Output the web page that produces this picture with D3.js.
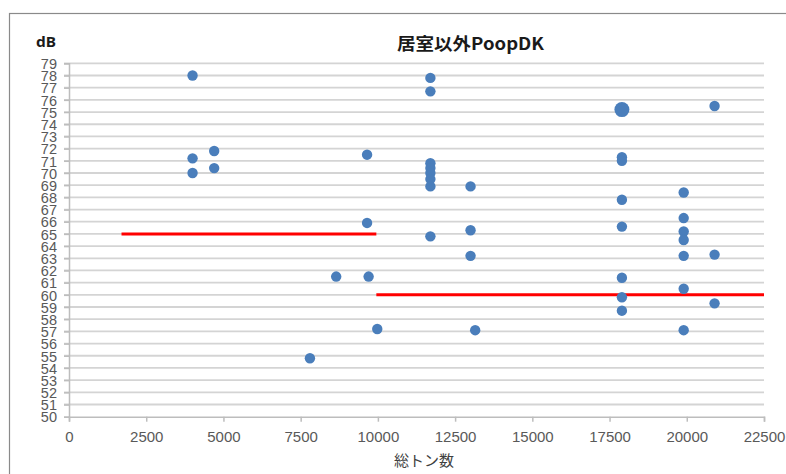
<!DOCTYPE html>
<html>
<head>
<meta charset="utf-8">
<script src="https://cdn.jsdelivr.net/npm/d3@7"></script>
<style>
  html, body { margin: 0; padding: 0; background: #fff; }
  svg { display: block; }
</style>
</head>
<body>
<svg id="chart" width="786" height="474"></svg>
<script>
// Gross tonnage (x) and measured level in dB (y)
const tonnage = [
  4000, 4000, 4000, 4700, 4700, 9650, 9650, 8650, 9700, 7800, 9980,
  11700, 11700, 11700, 11700, 11700, 11700, 11700, 11700,
  13000, 13000, 13000, 13150,
  17900, 17900, 17900, 17900, 17900, 17900, 17900,
  19900, 19900, 19900, 19900, 19900, 19900, 19900,
  20900, 20900, 20900
];
const level = [
  78.0, 71.2, 70.0, 71.8, 70.4, 71.5, 65.9, 61.5, 61.5, 54.8, 57.2,
  77.8, 76.7, 70.8, 70.4, 70.0, 69.5, 68.9, 64.8,
  68.9, 65.3, 63.2, 57.1,
  71.3, 71.0, 67.8, 65.6, 61.4, 59.8, 58.7,
  68.4, 66.3, 65.2, 64.5, 63.2, 60.5, 57.1,
  75.5, 63.3, 59.3
];
// Point drawn with a larger marker
const largeTonnage = [17900];
const largeLevel = [75.2];

// Limit lines: start tonnage, end tonnage, level
const limitStart = [1700, 9950];
const limitEnd = [9950, 22500];
const limitLevel = [65, 60];

const yTicks = d3.range(50, 80, 1);
const xTicks = [0, 2500, 5000, 7500, 10000, 12500, 15000, 17500, 20000, 22500];

const titleText = "居室以外PoopDK";
const yUnit = "dB";
const xTitle = "総トン数";

const svg = d3.select("#chart");
const x = d3.scaleLinear().domain([0, 22500]).range([69, 764]);
const y = d3.scaleLinear().domain([50, 79]).range([416.7, 63.3]);

// Outer frame
svg.append("rect")
  .attr("x", 9.5).attr("y", 13.5).attr("width", 820).attr("height", 520)
  .attr("fill", "none").attr("stroke", "#8a8a8a").attr("stroke-width", 1.2);

// Horizontal gridlines with small left tick
svg.append("g").selectAll("line").data(yTicks.filter(v => v > 50)).join("line")
  .attr("x1", 64).attr("x2", x(22500))
  .attr("y1", d => y(d)).attr("y2", d => y(d))
  .attr("stroke", "#d4d4d4").attr("stroke-width", 1.8);

// Y axis
const yAxis = d3.axisLeft(y).tickValues(yTicks).tickSize(5).tickPadding(7).tickFormat(d3.format("d"));
const gy = svg.append("g").attr("transform", `translate(${x(0)},0)`).call(yAxis);
gy.select(".domain").attr("stroke", "#bdbdbd").attr("stroke-width", 1.5);
gy.selectAll(".tick line").attr("stroke", "#bdbdbd").attr("stroke-width", 1.5);
gy.selectAll(".tick text")
  .attr("fill", "#595959")
  .style("font-family", "'Liberation Sans', Arial, sans-serif")
  .style("font-size", "14.5px")
  .attr("dy", "0.36em");

// X axis
const xAxis = d3.axisBottom(x).tickValues(xTicks).tickSize(5).tickPadding(10).tickFormat(d3.format("d"));
const gx = svg.append("g").attr("transform", `translate(0,${y(50)})`).call(xAxis);
gx.select(".domain").attr("stroke", "#bdbdbd").attr("stroke-width", 1.5);
gx.selectAll(".tick line").attr("stroke", "#bdbdbd").attr("stroke-width", 1.5);
gx.selectAll(".tick text")
  .attr("fill", "#595959")
  .style("font-family", "'Liberation Sans', Arial, sans-serif")
  .style("font-size", "15px");

// Limit lines
svg.append("g").selectAll("line").data(limitLevel.map((v, i) => ({ a: limitStart[i], b: limitEnd[i], v })))
  .join("line")
  .attr("x1", d => x(d.a)).attr("x2", d => x(d.b))
  .attr("y1", d => y(d.v)).attr("y2", d => y(d.v))
  .attr("stroke", "#ff0000").attr("stroke-width", 3);

// Measured points
const pts = tonnage.map((t, i) => ({ t, v: level[i] }));
svg.append("g").selectAll("circle").data(pts).join("circle")
  .attr("cx", d => x(d.t)).attr("cy", d => y(d.v)).attr("r", 5.2)
  .attr("fill", "#4a7ebb");

svg.append("g").selectAll("circle").data(largeTonnage.map((t, i) => ({ t, v: largeLevel[i] }))).join("circle")
  .attr("cx", d => x(d.t)).attr("cy", d => y(d.v)).attr("r", 7.5)
  .attr("fill", "#4a7ebb");

// Titles
svg.append("text")
  .attr("x", 397).attr("y", 50)
  .attr("textLength", 147).attr("lengthAdjust", "spacingAndGlyphs")
  .style("font-family", "'Noto Sans CJK JP', sans-serif")
  .style("font-size", "17px").style("font-weight", "bold")
  .attr("fill", "#1a1a1a")
  .text(titleText);

svg.append("text")
  .attr("x", 36).attr("y", 47)
  .attr("textLength", 20).attr("lengthAdjust", "spacingAndGlyphs")
  .style("font-family", "'Noto Sans', sans-serif")
  .style("font-size", "14px").style("font-weight", "bold")
  .attr("fill", "#1a1a1a")
  .text(yUnit);

svg.append("text")
  .attr("x", 394).attr("y", 466)
  .attr("textLength", 60).attr("lengthAdjust", "spacingAndGlyphs")
  .style("font-family", "'Noto Sans CJK JP', sans-serif")
  .style("font-size", "15px")
  .attr("fill", "#404040")
  .text(xTitle);
</script>
</body>
</html>
